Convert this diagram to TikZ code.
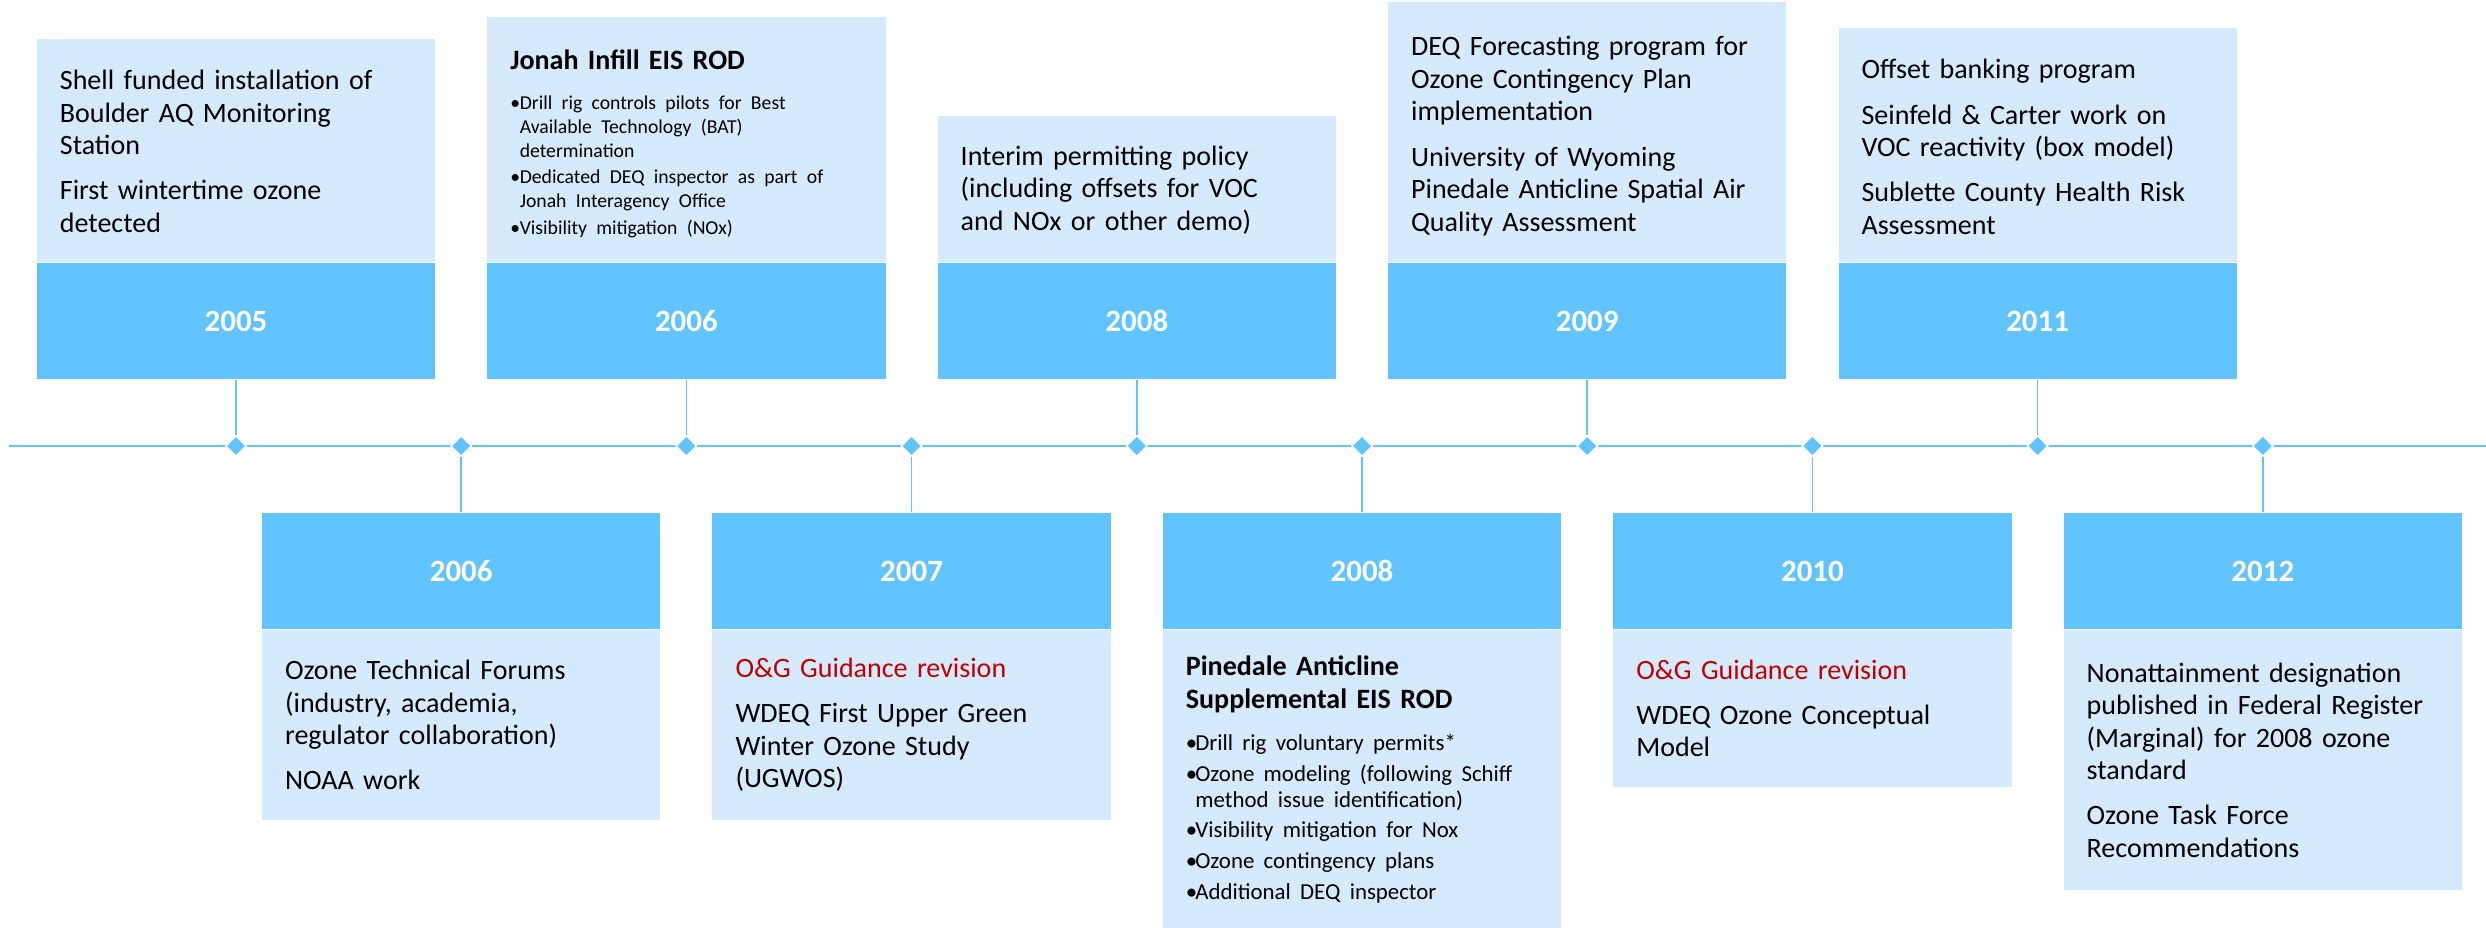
\documentclass[tikz,border=0pt]{standalone}
\usepackage{fontspec}
\setmainfont{Carlito}
\usetikzlibrary{shapes.geometric}

\definecolor{bandblue}{HTML}{62C4FE}
\definecolor{paleblue}{HTML}{D6EAFD}
\definecolor{ogred}{HTML}{C00000}
\setlength{\parindent}{0pt}

\newcommand\mainfs{\fontsize{7.97}{9.25}\selectfont}
\newcommand\smallfs{\fontsize{5.6}{6.7}\selectfont}
\newcommand\midfs{\fontsize{6.5}{7.4}\selectfont}
\newcommand\bul{\makebox[2.7pt][l]{\textbullet}}
\newcommand\hang{\hspace*{2.7pt}}
\newcommand\pgap{\par\vspace{3.6pt}}

\begin{document}
\begin{tikzpicture}[x=0.01cm,y=-0.01cm,
    yearbox/.style={fill=bandblue, text=white, font=\fontsize{8.8}{10}\selectfont\bfseries,
      minimum width=3.98cm, minimum height=1.16cm, inner sep=0pt},
    infobox/.style={fill=paleblue, minimum width=3.98cm, inner sep=0pt},
    infotext/.style={anchor=west, text width=3.7cm, align=left, inner sep=0pt, font=\mainfs},
    diam/.style={diamond, fill=bandblue, draw=white, line width=0.4pt,
      minimum width=0.21cm, minimum height=0.21cm, inner sep=0pt},
    stem/.style={draw=bandblue, line width=0.45pt},
    tline/.style={draw=bandblue, line width=0.75pt}]

  \useasboundingbox (0,0) rectangle (2486,927);

  % timeline
  \coordinate (tl-l) at (9,446);
  \coordinate (tl-r) at (2486,446);
  \draw[tline] (tl-l) -- (tl-r);

  % year bands, upper row
  \node[yearbox] (y2005) at (236,321) {2005};
  \node[yearbox] (y2006a) at (686.4,321) {2006};
  \node[yearbox] (y2008a) at (1136.8,321) {2008};
  \node[yearbox] (y2009) at (1587.2,321) {2009};
  \node[yearbox] (y2011) at (2037.6,321) {2011};

  % year bands, lower row
  \node[yearbox] (y2006b) at (461.2,571) {2006};
  \node[yearbox] (y2007) at (911.6,571) {2007};
  \node[yearbox] (y2008b) at (1362,571) {2008};
  \node[yearbox] (y2010) at (1812.4,571) {2010};
  \node[yearbox] (y2012) at (2262.8,571) {2012};

  % pale boxes
  \node[infobox, minimum height=2.22cm, anchor=south] (t2005) at (y2005.north) {};
  \node[infobox, minimum height=2.44cm, anchor=south] (t2006a) at (y2006a.north) {};
  \node[infobox, minimum height=1.45cm, anchor=south] (t2008a) at (y2008a.north) {};
  \node[infobox, minimum height=2.59cm, anchor=south] (t2009) at (y2009.north) {};
  \node[infobox, minimum height=2.33cm, anchor=south] (t2011) at (y2011.north) {};
  \node[infobox, minimum height=1.89cm, anchor=north] (t2006b) at (y2006b.south) {};
  \node[infobox, minimum height=1.89cm, anchor=north] (t2007) at (y2007.south) {};
  \node[infobox, minimum height=2.98cm, anchor=north] (t2008b) at (y2008b.south) {};
  \node[infobox, minimum height=1.56cm, anchor=north] (t2010) at (y2010.south) {};
  \node[infobox, minimum height=2.59cm, anchor=north] (t2012) at (y2012.south) {};

  % texts
  \node[infotext] (x2005) at ([xshift=0.23cm,yshift=-0.01cm]t2005.west)
    {Shell funded installation of\\Boulder AQ Monitoring\\Station\pgap
     First wintertime ozone\\detected};
  \node[infotext] (x2006a) at ([xshift=0.23cm,yshift=-0.04cm]t2006a.west)
    {{\bfseries Jonah Infill EIS ROD}\par\vspace{4.9pt}
     {\smallfs\bul Drill rig controls pilots for Best\\\hang Available Technology (BAT)\\\hang determination\\[0.9pt]
      \bul Dedicated DEQ inspector as part of\\\hang Jonah Interagency Office\\[0.9pt]
      \bul Visibility mitigation (NOx)\par}};
  \node[infotext] (x2008a) at ([xshift=0.23cm,yshift=-0.01cm]t2008a.west)
    {Interim permitting policy\\(including offsets for VOC\\and NOx or other demo)};
  \node[infotext] (x2009) at ([xshift=0.23cm,yshift=-0.04cm]t2009.west)
    {DEQ Forecasting program for\\Ozone Contingency Plan\\implementation\pgap
     University of Wyoming\\Pinedale Anticline Spatial Air\\Quality Assessment};
  \node[infotext] (x2011) at ([xshift=0.23cm,yshift=-0.02cm]t2011.west)
    {Offset banking program\pgap
     Seinfeld \& Carter work on\\VOC reactivity (box model)\pgap
     Sublette County Health Risk\\Assessment};
  \node[infotext] (x2006b) at ([xshift=0.23cm]t2006b.west)
    {Ozone Technical Forums\\(industry, academia,\\regulator collaboration)\pgap
     NOAA work};
  \node[infotext] (x2007) at ([xshift=0.23cm]t2007.west)
    {\textcolor{ogred}{O\&G Guidance revision}\pgap
     WDEQ First Upper Green\\Winter Ozone Study\\(UGWOS)};
  \node[infotext] (x2008b) at ([xshift=0.23cm]t2008b.west)
    {{\bfseries Pinedale Anticline\\Supplemental EIS ROD\par}\vspace{4.6pt}
     {\midfs\bul Drill rig voluntary permits*\\[1.3pt]
      \bul Ozone modeling (following Schiff\\\hang method issue identification)\\[1.3pt]
      \bul Visibility mitigation for Nox\\[1.3pt]
      \bul Ozone contingency plans\\[1.3pt]
      \bul Additional DEQ inspector\par}};
  \node[infotext] (x2010) at ([xshift=0.23cm]t2010.west)
    {\textcolor{ogred}{O\&G Guidance revision}\pgap
     WDEQ Ozone Conceptual\\Model};
  \node[infotext] (x2012) at ([xshift=0.23cm]t2012.west)
    {Nonattainment designation\\published in Federal Register\\(Marginal) for 2008 ozone\\standard\pgap
     Ozone Task Force\\Recommendations};

  % markers on the timeline
  \node[diam] (d1) at (236,446) {};
  \node[diam] (d2) at (461.2,446) {};
  \node[diam] (d3) at (686.4,446) {};
  \node[diam] (d4) at (911.6,446) {};
  \node[diam] (d5) at (1136.8,446) {};
  \node[diam] (d6) at (1362,446) {};
  \node[diam] (d7) at (1587.2,446) {};
  \node[diam] (d8) at (1812.4,446) {};
  \node[diam] (d9) at (2037.6,446) {};
  \node[diam] (d10) at (2262.8,446) {};

  % stems
  \draw[stem] (y2005.south) -- (d1);
  \draw[stem] (d2) -- (y2006b.north);
  \draw[stem] (y2006a.south) -- (d3);
  \draw[stem] (d4) -- (y2007.north);
  \draw[stem] (y2008a.south) -- (d5);
  \draw[stem] (d6) -- (y2008b.north);
  \draw[stem] (y2009.south) -- (d7);
  \draw[stem] (d8) -- (y2010.north);
  \draw[stem] (y2011.south) -- (d9);
  \draw[stem] (d10) -- (y2012.north);
\end{tikzpicture}
\end{document}
